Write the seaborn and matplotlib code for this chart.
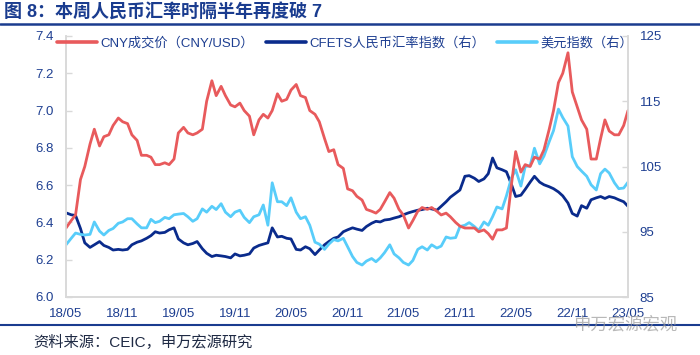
import pandas as pd
import matplotlib.pyplot as plt
import matplotlib.dates as mdates
from matplotlib.lines import Line2D
import seaborn as sns

# 半月频数据（每月1日、15日），2018/05/15 - 2023/05/15
# CNY成交价（CNY/USD），左轴
cny_2018 = [6.37, 6.41, 6.44, 6.63, 6.70, 6.82, 6.90, 6.81, 6.86, 6.87, 6.92, 6.96, 6.94, 6.93, 6.87]
cny_2019 = [6.84, 6.76, 6.76, 6.75, 6.71, 6.71, 6.72, 6.71, 6.74, 6.88, 6.91, 6.88,
            6.87, 6.88, 6.90, 7.05, 7.16, 7.08, 7.13, 7.08, 7.03, 7.02, 7.04, 7.00]
cny_2020 = [6.97, 6.87, 6.95, 6.98, 6.96, 7.00, 7.09, 7.05, 7.06, 7.11, 7.14, 7.08,
            7.07, 7.00, 6.98, 6.94, 6.85, 6.78, 6.79, 6.71, 6.69, 6.58, 6.57, 6.54]
cny_2021 = [6.52, 6.47, 6.46, 6.45, 6.47, 6.51, 6.56, 6.53, 6.47, 6.44, 6.37, 6.41,
            6.46, 6.48, 6.47, 6.48, 6.46, 6.44, 6.45, 6.43, 6.40, 6.38, 6.37, 6.37]
cny_2022 = [6.37, 6.35, 6.36, 6.34, 6.31, 6.36, 6.36, 6.37, 6.60, 6.78, 6.67, 6.71,
            6.70, 6.75, 6.74, 6.79, 6.90, 7.00, 7.15, 7.20, 7.31, 7.10, 7.02, 6.95]
cny_2023 = [6.90, 6.74, 6.74, 6.85, 6.95, 6.89, 6.87, 6.87, 6.92, 7.00]

# CFETS人民币汇率指数，右轴
cfets_2018 = [97.9, 97.6, 97.5, 95.5, 93.3, 92.6, 93.0, 93.5, 92.9, 92.6, 92.2, 92.3, 92.2, 92.3, 93.0]
cfets_2019 = [93.4, 93.6, 94.0, 94.4, 95.0, 94.8, 94.9, 95.3, 95.6, 93.9, 93.3, 93.0,
              93.2, 93.5, 92.4, 91.7, 91.2, 91.4, 91.3, 91.2, 91.0, 91.6, 91.3, 91.4]
cfets_2020 = [91.6, 92.5, 92.9, 93.1, 93.3, 95.6, 94.2, 94.3, 94.0, 93.9, 92.3, 92.2,
              92.7, 92.4, 91.5, 92.2, 93.0, 93.5, 94.0, 94.2, 95.0, 95.3, 95.6, 95.4]
cfets_2021 = [95.2, 95.8, 96.3, 96.6, 96.5, 96.8, 96.9, 97.1, 97.3, 97.6, 97.9, 98.1,
              98.3, 98.4, 98.6, 98.5, 98.3, 98.9, 99.6, 100.3, 100.9, 101.4, 103.5, 103.6]
cfets_2022 = [103.2, 102.7, 103.1, 103.9, 106.3, 104.8, 104.5, 104.2, 102.3, 100.4, 100.6, 101.5,
              102.6, 103.5, 102.6, 102.2, 101.9, 101.6, 101.1, 100.5, 99.4, 97.8, 97.4, 99.0]
cfets_2023 = [98.6, 99.9, 100.2, 100.4, 100.1, 100.4, 100.2, 99.9, 99.6, 98.9]

# 美元指数，右轴
dxy_2018 = [93.0, 94.0, 94.8, 94.6, 94.5, 94.6, 96.5, 95.1, 94.5, 95.2, 95.5, 96.3, 96.5, 97.0, 97.0]
dxy_2019 = [96.2, 95.6, 95.6, 96.9, 96.4, 96.6, 97.2, 97.0, 97.6, 97.7, 97.8, 97.3,
            96.6, 97.0, 98.5, 98.0, 98.9, 98.4, 99.3, 98.0, 97.3, 98.0, 98.3, 97.2]
dxy_2020 = [96.4, 97.3, 97.6, 99.1, 96.0, 102.5, 99.6, 99.6, 99.0, 100.2, 98.0, 97.0,
            97.3, 96.0, 93.4, 93.1, 92.3, 93.1, 93.8, 93.6, 94.0, 92.7, 91.2, 90.3]
dxy_2021 = [89.9, 90.5, 90.9, 90.4, 91.0, 91.8, 93.0, 91.6, 91.0, 90.3, 89.9, 90.6,
            92.3, 92.7, 92.2, 93.0, 92.5, 92.8, 94.2, 94.0, 94.1, 95.8, 96.0, 96.4]
dxy_2022 = [95.8, 95.2, 96.5, 96.0, 97.3, 98.8, 98.5, 100.5, 103.2, 104.5, 102.0, 105.0,
            105.1, 107.8, 105.4, 106.6, 108.8, 110.5, 113.8, 112.5, 111.2, 106.5, 105.0, 104.3]
dxy_2023 = [103.5, 102.2, 101.4, 103.9, 104.6, 104.0, 102.5, 101.6, 101.7, 102.6]

tick_labels_left = [6.0, 6.2, 6.4, 6.6, 6.8, 7.0, 7.2, 7.4]
tick_labels_right = [85, 95, 105, 115, 125]

cny = cny_2018 + cny_2019 + cny_2020 + cny_2021 + cny_2022 + cny_2023
cfets = cfets_2018 + cfets_2019 + cfets_2020 + cfets_2021 + cfets_2022 + cfets_2023
dxy = dxy_2018 + dxy_2019 + dxy_2020 + dxy_2021 + dxy_2022 + dxy_2023
dates = pd.date_range('2018-05-15', '2023-05-15', freq='SMS')
assert len(cny) == len(cfets) == len(dxy) == len(dates), (len(cny), len(cfets), len(dxy), len(dates))

df = pd.DataFrame({'date': dates, 'cny': cny, 'cfets': cfets, 'dxy': dxy})

RED = '#E85A5C'
NAVY = '#0A2B8C'
LIGHT = '#58CDFA'
TXT = '#1E3F91'
GRID = '#D9D9D9'

sns.set_style('white')
plt.rcParams['font.family'] = ['Liberation Sans', 'Noto Sans CJK SC', 'DejaVu Sans']

fig = plt.figure(figsize=(7, 3.55), dpi=100)
ax = fig.add_axes([66 / 700, 1 - 297 / 355, 562 / 700, 261 / 355])
ax2 = ax.twinx()

sns.lineplot(data=df, x='date', y='cfets', ax=ax2, color=NAVY, linewidth=2.0, legend=False)
sns.lineplot(data=df, x='date', y='dxy', ax=ax2, color=LIGHT, linewidth=2.0, legend=False)
sns.lineplot(data=df, x='date', y='cny', ax=ax, color=RED, linewidth=2.0, legend=False)

# 红线在上层
ax.set_zorder(ax2.get_zorder() + 1)
ax.patch.set_visible(False)

ax.set_ylim(6.0, 7.4)
ax.set_yticks(tick_labels_left)
ax.set_yticklabels([f'{v:.1f}' for v in tick_labels_left])
ax2.set_ylim(85, 125)
ax2.set_yticks(tick_labels_right)

xticks = pd.date_range('2018-05-01', periods=11, freq='6MS') + pd.Timedelta(days=14)
ax.set_xlim(dates[0], dates[-1])
ax.set_xticks(xticks)
ax.xaxis.set_major_formatter(mdates.DateFormatter('%y/%m'))

for a in (ax, ax2):
    a.set_xlabel('')
    a.set_ylabel('')
    a.spines['top'].set_visible(False)
    for s in ('left', 'right', 'bottom'):
        a.spines[s].set_color(GRID)
        a.spines[s].set_linewidth(1.2)
    a.tick_params(axis='both', direction='in', length=4, width=1, color=GRID,
                  labelcolor=TXT, labelsize=9.5)
ax.tick_params(axis='y', pad=9)
ax.tick_params(axis='x', pad=8)
ax2.tick_params(axis='y', pad=8.5)

handles = [Line2D([], [], color=RED, lw=2.6),
           Line2D([], [], color=NAVY, lw=2.6),
           Line2D([], [], color=LIGHT, lw=2.6)]
labels = ['CNY成交价（CNY/USD）', 'CFETS人民币汇率指数（右）', '美元指数（右）']
ax.legend(handles, labels, loc='center', bbox_to_anchor=(0.497, 0.973), ncol=3,
          frameon=False, fontsize=9.5, handlelength=3.0, handletextpad=0.3,
          columnspacing=0.9, labelcolor=TXT)

# 标题、分隔线、资料来源
fig.text(0.006, 1 - 13 / 355, '图 8：本周人民币汇率时隔半年再度破 7', fontsize=13,
         fontweight='bold', color='#1A3C8F', va='center', ha='left')
fig.add_artist(Line2D([0, 1], [1 - 24 / 355, 1 - 24 / 355], color='#1A3C8F', lw=1.8))
fig.add_artist(Line2D([0, 1], [1 - 325 / 355, 1 - 325 / 355], color='#1A3C8F', lw=1.5))
fig.text(33 / 700, 1 - 342 / 355, '资料来源：CEIC，申万宏源研究', fontsize=11,
         color='#1F2A44', va='center', ha='left')
fig.text(573 / 700, 1 - 324 / 355, '申万宏源宏观', fontsize=12.5, color='#9A9A9A',
         alpha=0.7, va='center', ha='left')

plt.savefig('out.png', dpi=100)
